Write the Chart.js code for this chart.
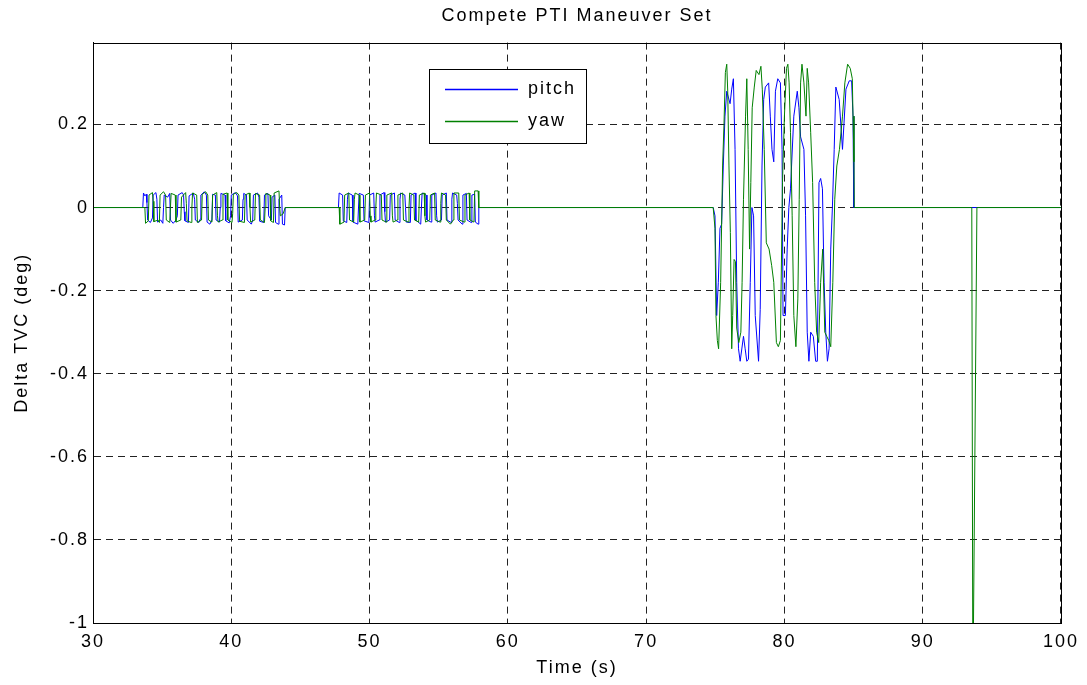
<!DOCTYPE html>
<html>
<head>
<meta charset="utf-8">
<title>Compete PTI Maneuver Set</title>
<script src="https://cdn.jsdelivr.net/npm/chart.js@4"></script>
<style>
  html, body { margin: 0; padding: 0; background: #fff; }
  canvas { display: block; }
</style>
</head>
<body>
<canvas id="ptiChart" width="1087" height="685"></canvas>
<script>
// Breakpoints as [time (s), delta TVC (deg)]
const pitchBurst1 = [
    [33.60, 0], [33.65, 0.035], [33.75, 0.028], [33.85, 0.032], [33.90, 0.012], [33.95, -0.03], [34.15, -0.036],
    [34.30, -0.025], [34.35, 0.03], [34.55, 0.036], [34.62, 0.02], [34.67, -0.035], [34.90, -0.03], [35.05, -0.038],
    [35.10, 0.0], [35.15, 0.03], [35.40, 0.025], [35.55, 0.034], [35.60, -0.03], [35.80, -0.038], [36.00, -0.03],
    [36.10, -0.02], [36.15, 0.03], [36.45, 0.036], [36.55, 0.03], [36.60, -0.01], [36.65, -0.032], [36.90, -0.036],
    [36.95, 0.028], [37.25, 0.035], [37.35, 0.02], [37.40, -0.03], [37.65, -0.036], [37.75, -0.028], [37.80, 0.03],
    [38.05, 0.038], [38.20, 0.03], [38.25, -0.035], [38.45, -0.04], [38.60, -0.03], [38.65, 0.032], [38.85, 0.03],
    [38.90, -0.03], [39.15, -0.035], [39.20, 0.0], [39.25, 0.034], [39.55, 0.03], [39.60, -0.032], [39.85, -0.037],
    [39.95, -0.02], [40.00, 0.03], [40.30, 0.036], [40.45, 0.028], [40.50, -0.035], [40.80, -0.03], [40.85, 0.02],
    [40.90, 0.034], [41.10, 0.03], [41.15, -0.03], [41.45, -0.04], [41.55, -0.03], [41.60, 0.03], [41.90, 0.035],
    [42.00, 0.025], [42.05, -0.033], [42.35, -0.036], [42.40, 0.03], [42.65, 0.034], [42.70, -0.02], [42.90, -0.03],
    [42.95, 0.025], [43.15, 0.03], [43.20, -0.036], [43.40, -0.04], [43.45, 0.02], [43.65, 0.03], [43.70, -0.04],
    [43.85, -0.042], [43.90, 0]
];
const pitchBurst2 = [
    [47.75, 0], [47.80, 0.035], [48.05, 0.03], [48.10, -0.032], [48.35, -0.036], [48.40, 0.02], [48.45, 0.035],
    [48.75, 0.03], [48.80, -0.035], [49.15, -0.04], [49.20, 0.0], [49.25, 0.034], [49.55, 0.03], [49.60, -0.032],
    [49.95, -0.036], [50.00, 0.03], [50.30, 0.035], [50.35, -0.02], [50.40, -0.035], [50.70, -0.03], [50.75, 0.03],
    [51.05, 0.036], [51.10, -0.01], [51.15, -0.035], [51.45, -0.03], [51.50, 0.03], [51.80, 0.035], [51.85, -0.03],
    [52.15, -0.036], [52.20, 0.02], [52.25, 0.035], [52.55, 0.03], [52.60, 0.0], [52.65, -0.035], [52.95, -0.036],
    [53.00, 0.03], [53.30, 0.035], [53.35, -0.03], [53.70, -0.04], [53.75, 0.0], [53.80, 0.035], [54.10, 0.03],
    [54.15, -0.03], [54.45, -0.035], [54.50, 0.03], [54.80, 0.035], [54.85, -0.02], [54.90, -0.035], [55.20, -0.03],
    [55.25, 0.03], [55.55, 0.035], [55.60, -0.03], [55.90, -0.036], [55.95, 0.02], [56.00, 0.035], [56.30, 0.03],
    [56.35, 0.01], [56.40, -0.03], [56.70, -0.04], [56.75, 0.03], [57.00, 0.034], [57.05, -0.03], [57.35, -0.036],
    [57.40, 0.03], [57.60, 0.032], [57.65, -0.035], [57.85, -0.04], [57.90, 0]
];
const pitchBurst3 = [
    [74.85, 0], [74.98, -0.02], [75.10, -0.26], [75.22, -0.18], [75.34, -0.05], [75.46, -0.04], [75.58, 0.10],
    [75.70, 0.22], [75.83, 0.28], [76.07, 0.25], [76.19, 0.285], [76.31, 0.31], [76.43, 0.14], [76.55, -0.18],
    [76.68, -0.34], [76.80, -0.37], [77.04, -0.31], [77.16, -0.34], [77.28, -0.37], [77.40, -0.365], [77.53, -0.18],
    [77.65, 0.0], [77.77, -0.02], [77.89, -0.26], [78.13, -0.37], [78.25, -0.245], [78.38, 0.10], [78.50, 0.26],
    [78.62, 0.29], [78.86, 0.30], [78.98, 0.22], [79.10, 0.14], [79.23, 0.11], [79.35, 0.28], [79.52, 0.31],
    [79.71, 0.30], [79.83, 0.14], [79.90, -0.26], [80.07, -0.26], [80.20, -0.10], [80.32, 0.0], [80.44, 0.045],
    [80.68, 0.22], [80.93, 0.28], [81.05, 0.24], [81.17, 0.17], [81.41, 0.14], [81.53, -0.02], [81.65, -0.30],
    [81.77, -0.37], [81.90, -0.30], [82.09, -0.31], [82.26, -0.37], [82.38, -0.37], [82.50, 0.06], [82.62, 0.07],
    [82.75, 0.045], [82.87, -0.18], [82.99, -0.30], [83.11, -0.37], [83.23, -0.34], [83.35, -0.10], [83.47, 0],
    [83.60, 0.14], [83.72, 0.29], [83.96, 0.26], [84.20, 0.14], [84.45, 0.285], [84.69, 0.305], [84.86, 0.305],
    [84.96, 0.22], [85.00, 0.11], [85.03, 0]
];

const yawBurst1 = [
    [33.75, 0], [33.80, -0.038], [34.00, -0.032], [34.05, 0.03], [34.30, 0.036], [34.35, 0.015], [34.40, -0.034],
    [34.70, -0.03], [34.80, -0.036], [34.85, 0.03], [35.10, 0.038], [35.25, 0.03], [35.30, -0.03], [35.55, -0.036],
    [35.60, 0.0], [35.65, 0.034], [35.95, 0.03], [36.00, -0.035], [36.35, -0.03], [36.40, 0.025], [36.70, 0.036],
    [36.75, 0.01], [36.80, -0.032], [37.10, -0.036], [37.15, 0.0], [37.20, 0.035], [37.50, 0.03], [37.55, -0.036],
    [37.85, -0.03], [37.90, 0.032], [38.15, 0.038], [38.30, 0.03], [38.35, -0.03], [38.60, -0.035], [38.65, 0.03],
    [38.95, 0.036], [39.00, -0.02], [39.05, -0.035], [39.35, -0.03], [39.40, 0.032], [39.70, 0.035], [39.75, -0.03],
    [40.05, -0.036], [40.10, -0.015], [40.15, 0.032], [40.40, 0.036], [40.55, 0.03], [40.60, -0.033], [40.95, -0.036],
    [41.00, 0.03], [41.30, 0.035], [41.35, 0.0], [41.40, -0.035], [41.70, -0.03], [41.75, 0.034], [42.05, 0.03],
    [42.10, -0.03], [42.40, -0.036], [42.45, 0.0], [42.50, 0.034], [42.80, 0.03], [42.85, -0.032], [43.05, -0.036],
    [43.10, 0.035], [43.45, 0.04], [43.50, 0.0], [43.55, -0.02], [43.75, -0.015], [43.90, 0]
];
const yawBurst2 = [
    [47.80, 0], [47.85, -0.04], [48.15, -0.035], [48.20, 0.03], [48.50, 0.035], [48.55, -0.03], [48.85, -0.035],
    [48.90, 0.02], [48.95, 0.035], [49.25, 0.03], [49.30, -0.035], [49.65, -0.03], [49.70, 0.03], [50.00, 0.035],
    [50.05, -0.02], [50.10, -0.035], [50.40, -0.03], [50.45, 0.0], [50.50, 0.035], [50.85, 0.03], [50.90, -0.03],
    [51.20, -0.035], [51.25, 0.03], [51.60, 0.035], [51.65, -0.02], [51.70, -0.035], [52.00, -0.03], [52.05, 0.03],
    [52.40, 0.035], [52.45, -0.03], [52.80, -0.035], [52.85, 0.0], [52.90, 0.035], [53.20, 0.03], [53.25, -0.03],
    [53.55, -0.035], [53.60, 0.03], [53.95, 0.035], [54.00, -0.02], [54.05, -0.035], [54.35, -0.03], [54.40, 0.03],
    [54.70, 0.035], [54.75, -0.03], [55.10, -0.035], [55.15, 0.01], [55.20, 0.035], [55.50, 0.03], [55.55, -0.03],
    [55.85, -0.04], [56.05, -0.03], [56.10, 0.035], [56.45, 0.035], [56.50, -0.03], [56.85, -0.035], [56.90, 0.03],
    [57.20, 0.035], [57.25, -0.03], [57.55, -0.035], [57.60, 0.04], [57.85, 0.04], [57.90, 0]
];
const yawBurst3 = [
    [74.85, 0], [74.98, -0.05], [75.05, -0.26], [75.15, -0.32], [75.24, -0.34], [75.39, -0.18], [75.53, 0.10],
    [75.63, 0.20], [75.73, 0.325], [75.83, 0.345], [75.90, 0.28], [75.99, 0.10], [76.09, -0.06], [76.19, -0.34],
    [76.26, -0.26], [76.36, -0.125], [76.46, -0.13], [76.55, -0.29], [76.70, -0.325], [76.85, -0.30], [76.94, -0.18],
    [77.04, 0.02], [77.19, 0.22], [77.28, 0.31], [77.38, 0.14], [77.48, -0.10], [77.57, 0.06], [77.67, 0.24],
    [77.82, 0.29], [77.96, 0.33], [78.16, 0.32], [78.30, 0.34], [78.40, 0.285], [78.54, 0.14], [78.69, -0.085],
    [78.89, -0.10], [79.08, -0.14], [79.23, -0.18], [79.42, -0.325], [79.56, -0.335], [79.71, -0.32], [79.86, 0.06],
    [80.00, 0.22], [80.15, 0.335], [80.25, 0.345], [80.34, 0.30], [80.44, 0.18], [80.56, -0.02], [80.68, -0.26],
    [80.83, -0.335], [80.97, -0.22], [81.07, 0.02], [81.17, 0.30], [81.27, 0.345], [81.41, 0.30], [81.56, 0.22],
    [81.65, 0.335], [81.75, 0.30], [81.90, 0.18], [82.04, 0.06], [82.19, -0.18], [82.33, -0.30], [82.48, -0.325],
    [82.62, -0.18], [82.77, -0.10], [82.92, -0.30], [83.06, -0.31], [83.21, -0.32], [83.35, -0.335], [83.50, -0.18],
    [83.64, 0.02], [83.79, 0.10], [83.98, 0.14], [84.20, 0.22], [84.37, 0.30], [84.57, 0.345], [84.76, 0.335],
    [84.91, 0.31], [84.96, 0.22], [85.03, 0.11], [85.05, 0]
];
const yawSpike = [[93.55, 0], [93.62, -1.05], [93.66, -1.05], [93.92, 0]];

const seriesNames = ['pitch', 'yaw'];
const seriesColors = ['#0000ff', '#008000'];

const xTicks = [30, 40, 50, 60, 70, 80, 90, 100];
const yTicks = [-1, -0.8, -0.6, -0.4, -0.2, 0, 0.2];

const FONT = "'Liberation Sans', Arial, Helvetica, sans-serif";
const SPACING = '2px'; // the original text is drawn wide

// zero before, between and after the bursts
function toPoints(...segments) {
    const pts = [{ x: 30, y: 0 }];
    segments.forEach(seg => seg.forEach(([t, v]) => pts.push({ x: t, y: v })));
    pts.push({ x: 100, y: 0 });
    return pts;
}

// wider letter spacing for every text on the canvas
const wideText = {
    id: 'wideText',
    beforeUpdate(chart) { chart.ctx.letterSpacing = SPACING; },
    beforeDraw(chart) { chart.ctx.letterSpacing = SPACING; }
};

// MATLAB-style closed axes box
const frameBox = {
    id: 'frameBox',
    afterDraw(chart) {
        const { ctx, chartArea: a } = chart;
        ctx.save();
        ctx.strokeStyle = '#000';
        ctx.lineWidth = 1;
        ctx.strokeRect(Math.round(a.left) + 0.5, Math.round(a.top) + 0.5,
            Math.round(a.right - a.left), Math.round(a.bottom - a.top));
        ctx.restore();
    }
};

// legend box drawn inside the axes like the original
const boxLegend = {
    id: 'boxLegend',
    afterDraw(chart) {
        const ctx = chart.ctx;
        const x0 = 429, y0 = 69, w = 157, h = 74;
        ctx.save();
        ctx.fillStyle = '#fff';
        ctx.fillRect(x0, y0, w, h);
        ctx.strokeStyle = '#000';
        ctx.lineWidth = 1;
        ctx.strokeRect(x0 + 0.5, y0 + 0.5, w, h);
        ctx.font = '18px ' + FONT;
        ctx.textBaseline = 'middle';
        seriesNames.forEach((name, i) => {
            const y = y0 + 20 + i * 32;
            ctx.strokeStyle = seriesColors[i];
            ctx.lineWidth = 1.3;
            ctx.beginPath();
            ctx.moveTo(x0 + 16, y + 0.5);
            ctx.lineTo(x0 + 89, y + 0.5);
            ctx.stroke();
            ctx.fillStyle = '#000';
            ctx.fillText(name, x0 + 99, y);
        });
        ctx.restore();
    }
};

new Chart(document.getElementById('ptiChart'), {
    type: 'line',
    data: {
        datasets: [
            {
                label: seriesNames[0],
                data: toPoints(pitchBurst1, pitchBurst2, pitchBurst3),
                borderColor: seriesColors[0],
                borderWidth: 1,
                pointRadius: 0,
                tension: 0,
                order: 1
            },
            {
                label: seriesNames[1],
                data: toPoints(yawBurst1, yawBurst2, yawBurst3, yawSpike),
                borderColor: seriesColors[1],
                borderWidth: 1,
                pointRadius: 0,
                tension: 0,
                order: 0
            }
        ]
    },
    options: {
        responsive: false,
        animation: false,
        layout: { padding: { left: 0, right: 26, top: 0, bottom: 0 } },
        plugins: {
            legend: { display: false },
            tooltip: { enabled: false },
            title: {
                display: true,
                fullSize: false,
                text: 'Compete PTI Maneuver Set',
                color: '#000',
                font: { family: FONT, size: 18, weight: 'normal' },
                padding: { top: 5, bottom: 16 }
            }
        },
        scales: {
            x: {
                type: 'linear',
                min: 30,
                max: 100,
                afterBuildTicks: scale => { scale.ticks = xTicks.map(v => ({ value: v })); },
                afterFit: scale => { scale.height = 62; },
                grid: { color: '#222', lineWidth: 1, drawTicks: false },
                border: { display: true, color: '#000', dash: [7, 5] },
                ticks: { color: '#000', padding: 8, maxRotation: 0, font: { family: FONT, size: 18 } },
                title: {
                    display: true,
                    text: 'Time (s)',
                    color: '#000',
                    font: { family: FONT, size: 18 },
                    padding: { top: 0, bottom: 6 }
                }
            },
            y: {
                min: -1,
                max: 0.397,
                afterBuildTicks: scale => { scale.ticks = yTicks.map(v => ({ value: v })); },
                afterFit: scale => { scale.width = 93; },
                grid: { color: '#222', lineWidth: 1, drawTicks: false },
                border: { display: true, color: '#000', dash: [7, 5] },
                ticks: {
                    color: '#000',
                    padding: 4,
                    font: { family: FONT, size: 18 },
                    callback: v => String(Math.round(v * 10) / 10)
                },
                title: {
                    display: true,
                    text: 'Delta TVC (deg)',
                    color: '#000',
                    font: { family: FONT, size: 18 },
                    padding: { top: 11, bottom: 0 }
                }
            }
        }
    },
    plugins: [wideText, frameBox, boxLegend]
});
</script>
</body>
</html>
